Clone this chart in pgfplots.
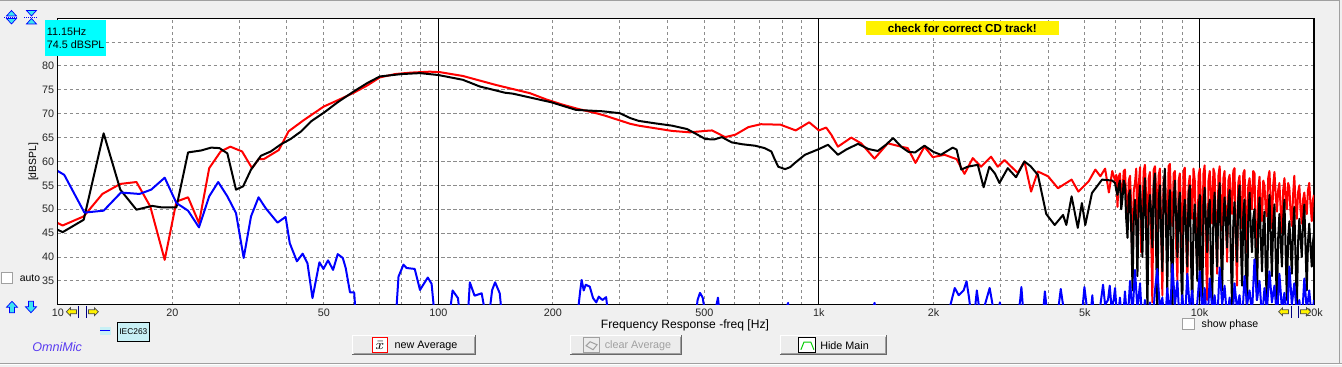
\documentclass[border=0pt]{standalone}
\usepackage{pgfplots}
\pgfplotsset{compat=1.18}
\usepackage{fontspec}
\setmainfont{Liberation Sans}
\definecolor{bg}{RGB}{240,240,240}
\definecolor{gridc}{RGB}{140,140,140}
\definecolor{btnface}{RGB}{236,236,236}
\definecolor{btnshadow}{RGB}{160,160,160}
\definecolor{btndark}{RGB}{105,105,105}
\definecolor{omni}{RGB}{90,60,240}
\definecolor{paleteal}{RGB}{200,240,245}
\definecolor{navy}{RGB}{0,0,128}
\definecolor{hlcyan}{RGB}{0,255,255}
\definecolor{arrowcyan}{RGB}{60,230,240}
\newcommand{\fs}{\fontsize{5.4}{6}\selectfont}
\newcommand{\btn}[4]{%
  \fill[btnface] (#1,#2) rectangle (#3,#4);
  \draw[white,line width=0.5pt] (#1+0.5,#4-1) -- (#1+0.5,#2+0.5) -- (#3-1,#2+0.5);
  \draw[btnshadow,line width=0.5pt] (#1+1.5,#4-1.5) -- (#3-1.5,#4-1.5) -- (#3-1.5,#2+1.5);
  \draw[btndark,line width=0.5pt] (#1,#4-0.5) -- (#3-0.5,#4-0.5) -- (#3-0.5,#2);}
\newcommand{\larrow}[2]{% tip x, center y
  \filldraw[fill=yellow,draw=black!70,line width=0.35pt] (#1,#2) -- (#1+4,#2-4) -- (#1+4,#2-2) -- (#1+10,#2-2) -- (#1+10,#2+2) -- (#1+4,#2+2) -- (#1+4,#2+4) -- cycle;}
\newcommand{\rarrow}[2]{%
  \filldraw[fill=yellow,draw=black!70,line width=0.35pt] (#1,#2) -- (#1-4,#2-4) -- (#1-4,#2-2) -- (#1-10,#2-2) -- (#1-10,#2+2) -- (#1-4,#2+2) -- (#1-4,#2+4) -- cycle;}
\begin{document}
\begin{tikzpicture}[x=0.5pt,y=-0.5pt]
\fill[bg] (0,0) rectangle (1342,367);
\draw[btnshadow,line width=0.5pt] (0,1) -- (1340,1) -- (1340,363);
\draw[btnshadow,line width=0.5pt] (0,363.5) -- (1342,363.5);
\draw[white,line width=0.5pt] (0,364.5) -- (1342,364.5);
\begin{axis}[
  at={(28.65pt,-9.1pt)}, anchor=north west,
  width=628.6pt, height=143.4pt, scale only axis,
  xmode=log, xmin=10, xmax=20000, ymin=30, ymax=90,
  axis background/.style={fill=white},
  axis line style={black,line width=0.6pt},
  xtick={10,20,30,40,50,60,70,80,90,100,200,300,400,500,600,700,800,900,1000,2000,3000,4000,5000,6000,7000,8000,9000,10000,20000},
  xticklabels={10,20,{},{},50,{},{},{},{},100,200,{},{},500,{},{},{},{},1k,2k,{},{},5k,{},{},{},{},10k,20k},
  ytick={35,40,45,50,55,60,65,70,75,80,85},
  yticklabels={35,40,45,50,55,60,65,70,75,80,{}},
  major tick length=0pt, minor tick length=0pt,
  xminorgrids=false, yminorgrids=false,
  xmajorgrids=true, ymajorgrids=true,
  major grid style={gridc,line width=0.5pt,dash pattern=on 1.6pt off 1.4pt},
  extra x ticks={100,1000,10000},
  extra x tick labels={},
  extra x tick style={grid=major, major grid style={black,solid,line width=0.5pt}},
  ticklabel style={font=\fs, text=black!85},
  xticklabel style={anchor=north, inner sep=0pt, yshift=-2pt},
  yticklabel style={anchor=east, inner sep=0pt, xshift=-1.6pt},
  every axis plot/.append style={line width=1pt, line join=round, mark=none},
]
\addplot[red] coordinates {
(10,47.1)(10.3,46.6)(11.7,48.5)(13.1,53.2)(14.6,55.3)(16.1,55.7)(17.5,50.6)(19.1,39.4)(20.5,51.6)(22.0,52.5)(23.5,47.1)(25.0,58.6)(26.8,62.1)(28.4,63.1)(30.5,62.1)(32.4,58.6)(33.7,60.5)(34.8,60.5)(38.1,62.4)(40.4,66.3)(44.2,68.6)(50.0,71.5)(54.7,72.9)(60,74.4)(65,75.9)(70.2,77.6)(77,78.3)(84.6,78.6)(95,78.8)(101,78.7)(116,77.9)(142,76.0)(174,74.3)(192,73.0)(212,71.9)(233,71.0)(260,70.1)(274,69.6)(319,67.9)(336,67.5)(411,66.4)(458,66.1)(503,66.4)(524,66.5)(567,65.1)(603,65.6)(653,67.2)(704,67.8)(793,67.7)(869,66.5)(943,68.2)(1000,66.5)(1045,67.1)(1080,65.5)(1122,63.1)(1216,65.0)(1291,63.8)(1400,60.6)(1517,63.8)(1645,63.1)(1712,62.8)(1794,59.7)(1894,63.1)(1992,60.9)(2139,61.4)(2225,60.9)(2300,60.5)(2413,57.4)(2537,60.7)(2667,58.9)(2834,61.0)(2951,58.9)(3072,60.3)(3330,57.6)(3468,60.0)(3611,53.7)(3762,57.9)(4000,56.9)(4248,54.4)(4613,56.2)(4806,53.7)(5111,55.8)(5325,58.3)(5490,56.9)(5650,58.5)(5780,53.5)(5900,58.0)
(6000,56.0)(6045,57.2)(6090,50.5)(6135,56.8)(6180,57.5)(6230,53.0)(6280,54.0)(6325,58.0)(6370,58.3)(6420,52.0)(6470,47.0)(6520,56.0)(6570,57.0)(6620,50.0)(6670,36.0)(6720,54.0)(6770,55.5)(6820,58.5)(6870,45.0)(6925,55.0)(6980,58.8)(7030,41.0)(7080,49.0)(7135,58.0)(7190,59.3)(7245,52.0)(7300,38.5)(7355,56.5)(7410,57.8)(7465,45.0)(7520,30.5)(7580,58.2)(7640,59.0)(7695,53.5)(7750,44.0)(7810,57.0)(7870,58.5)(7930,47.0)(7990,32.0)(8050,56.0)(8110,57.0)(8170,50.0)(8230,40.0)(8295,59.0)(8360,59.5)(8425,51.0)(8490,46.5)(8555,57.5)(8620,58.0)(8685,42.0)(8750,35.0)(8815,56.0)(8880,57.5)(8945,49.0)(9010,42.0)(9080,58.0)(9150,58.7)(9220,45.0)(9290,33.5)(9360,55.0)(9430,57.0)(9500,52.5)(9570,48.0)(9645,58.5)(9720,56.0)(9795,44.0)(9870,38.0)(9945,57.0)(10020,58.5)(10095,51.0)(10170,44.5)(10245,57.5)(10320,59.2)(10400,40.0)(10480,31.0)(10560,56.0)(10640,58.0)(10720,53.0)(10800,47.0)(10880,58.5)(10960,57.5)(11045,46.0)(11130,36.5)(11215,57.0)(11300,59.0)(11385,50.0)(11470,45.5)(11555,56.5)(11640,58.0)(11730,48.0)(11820,39.0)(11910,56.0)(12000,57.2)(12090,52.0)(12180,49.0)(12270,58.0)(12360,58.6)(12455,44.0)(12550,34.0)(12645,55.5)(12740,57.0)(12840,51.5)(12940,46.0)(13035,57.5)(13130,58.2)(13230,49.0)(13330,41.0)(13435,55.0)(13540,56.5)(13640,53.0)(13740,50.0)(13845,58.0)(13950,57.5)(14055,45.0)(14160,37.5)(14270,54.0)(14380,56.8)(14490,51.0)(14600,47.5)(14710,56.0)(14820,55.0)(14930,50.0)(15040,48.5)(15155,56.5)(15270,58.0)(15385,52.0)(15500,46.0)(15620,55.0)(15740,57.8)(15860,53.0)(15980,49.5)(16100,54.0)(16220,55.5)(16345,50.0)(16470,45.0)(16595,54.0)(16720,56.5)(16845,52.5)(16970,50.0)(17100,55.5)(17230,54.5)(17360,49.0)(17490,46.5)(17620,53.0)(17750,57.0)(17885,51.0)(18020,48.0)(18160,53.5)(18300,55.0)(18435,50.0)(18570,47.0)(18715,52.0)(18860,53.5)(19000,50.5)(19140,49.0)(19285,54.0)(19430,55.5)(19580,51.0)(19730,47.5)(19865,52.0)(20000,53.0)
};
\addplot[black] coordinates {
(10,45.7)(10.3,45.2)(11.7,47.8)(13.2,65.9)(14.6,54.1)(16.1,49.9)(17.7,50.7)(18.7,50.4)(20.5,50.4)(22.0,61.9)(23.8,62.3)(25.3,62.9)(26.6,62.8)(27.9,61.7)(29.4,54.1)(30.7,54.8)(32.2,58.3)(34.2,61.2)(36.3,62.1)(38.6,63.6)(40.9,64.7)(43.6,66.3)(46.3,68.4)(50.2,70.3)(54.4,72.4)(59.8,74.6)(65,76.4)(70.2,77.8)(80.1,78.3)(89.5,78.5)(100,78.1)(116,77.1)(128.5,75.7)(149.5,74.4)(157,74.2)(198,72.4)(230,70.8)(271,70.5)(300,70.1)(319,69.1)(336,68.5)(370,68.0)(411,67.5)(450,66.8)(475,65.8)(503,64.7)(530,64.6)(556,65.1)(590,64.0)(630,63.6)(680,63.3)(720,62.8)(750,62.1)(765,60.5)(782,58.9)(815,58.4)(840,58.8)(865,59.7)(919,61.4)(1000,62.6)(1057,63.5)(1122,61.4)(1180,62.5)(1267,63.7)(1350,62.6)(1428,62.2)(1500,63.5)(1567,64.9)(1650,63.0)(1720,62.0)(1790,61.9)(1894,63.3)(2000,62.0)(2092,61.4)(2247,62.9)(2300,62.5)(2366,58.3)(2459,58.9)(2615,59.3)(2709,54.6)(2805,58.9)(2900,57.5)(2981,55.5)(3135,58.6)(3296,56.7)(3468,60.0)(3600,59.0)(3762,57.2)(3958,49.0)(4164,46.7)(4381,48.8)(4468,46.7)(4613,52.7)(4789,46.1)(4909,51.3)(5011,46.7)(5218,53.4)(5548,56.2)(5901,56.0)
(6000,55.5)(6045,54.0)(6090,53.0)(6135,55.0)(6180,56.0)(6230,50.0)(6280,52.5)(6325,56.0)(6370,55.0)(6420,48.0)(6470,44.0)(6520,53.0)(6570,54.0)(6620,45.0)(6670,33.0)(6720,48.0)(6770,52.0)(6820,47.0)(6870,36.0)(6925,51.0)(6980,55.0)(7030,48.0)(7080,40.0)(7135,52.0)(7190,56.5)(7245,44.0)(7300,29.0)(7355,50.0)(7410,53.0)(7465,49.0)(7520,42.0)(7580,55.0)(7640,57.5)(7695,41.0)(7750,28.0)(7810,52.0)(7870,55.0)(7930,45.0)(7990,37.0)(8050,54.0)(8110,58.5)(8170,46.0)(8230,33.0)(8295,50.0)(8360,54.0)(8425,40.0)(8490,28.0)(8555,52.0)(8620,56.0)(8685,48.0)(8750,40.0)(8815,51.0)(8880,53.5)(8945,38.0)(9010,29.0)(9080,49.0)(9150,52.0)(9220,45.0)(9290,38.0)(9360,53.0)(9430,55.0)(9500,40.0)(9570,28.5)(9645,47.0)(9720,51.0)(9795,43.0)(9870,35.0)(9945,50.0)(10020,53.0)(10095,39.0)(10170,29.0)(10245,51.0)(10320,54.5)(10400,47.0)(10480,41.0)(10560,50.0)(10640,52.0)(10720,38.0)(10800,30.0)(10880,49.0)(10960,53.5)(11045,45.0)(11130,38.0)(11215,52.0)(11300,55.5)(11385,42.0)(11470,33.0)(11555,48.0)(11640,52.5)(11730,47.0)(11820,42.0)(11910,51.0)(12000,54.0)(12090,40.0)(12180,29.5)(12270,47.0)(12360,51.5)(12455,45.0)(12550,39.0)(12645,52.0)(12740,55.0)(12840,43.0)(12940,34.0)(13035,49.0)(13130,52.0)(13230,38.0)(13330,28.0)(13435,48.0)(13540,53.5)(13640,46.0)(13740,41.0)(13845,48.0)(13950,50.0)(14055,40.0)(14160,31.0)(14270,47.0)(14380,52.5)(14490,44.0)(14600,37.0)(14710,46.0)(14820,49.5)(14930,38.0)(15040,29.0)(15155,48.0)(15270,53.0)(15385,44.0)(15500,36.0)(15620,47.0)(15740,51.0)(15860,40.0)(15980,28.5)(16100,44.0)(16220,49.0)(16345,43.0)(16470,38.0)(16595,48.0)(16720,52.0)(16845,41.0)(16970,31.0)(17100,44.0)(17230,47.5)(17360,42.0)(17490,36.5)(17620,46.0)(17750,50.5)(17885,40.0)(18020,29.0)(18160,43.0)(18300,48.0)(18435,44.0)(18570,40.0)(18715,47.0)(18860,51.0)(19000,42.0)(19140,33.0)(19285,43.0)(19430,47.0)(19580,42.0)(19730,38.0)(19865,43.0)(20000,45.0)
};
\addplot[blue] coordinates {
(10,58.0)(10.4,57.2)(11.75,49.3)(13.2,49.7)(14.66,53.5)(16.4,53.2)(17.6,54.1)(19.1,56.6)(20.5,51.3)(22.0,49.7)(23.5,46.2)(25.0,52.7)(26.4,55.7)(27.9,52.7)(29.4,49.2)(30.8,39.8)(32.2,48.5)(33.7,52.5)(35.2,50.2)(37.8,47.2)(39.7,48.4)(40.7,42.9)(42.5,39.1)(44.0,40.7)(45.3,38.7)(46.7,31.4)(48.7,38.9)(49.9,37.5)(51.3,39.3)(52.9,37.3)(54.4,40.6)(56.1,39.8)(57.1,37.7)(58.6,32.6)(60.1,32.6)(61,25)(77,25)(78.6,35.9)(81,38.4)(82.5,37.7)(86.7,37.5)(89.5,33.1)(93.8,35.7)(96,34.4)(98.5,25)(106,25)(109,33.0)(112.6,31.4)(115,25)(119,25)(121,34.7)(124.5,31.9)(130,32.4)(135,25)(137,30)(138.5,33.1)(141,34.7)(145,32.4)(148,25)(230,25)(236,33)(238,35.2)(241,33)(244,34.2)(250,33.8)(255,31.4)(260,30.5)(264,31.7)(270,31.0)(276,31.6)(282,25)(470,25)(480,31)(487,32.5)(495,31.5)(505,27)(535,29)(543,31.5)(550,27)(600,25)(820,29)(830,30.4)(840,25)(1350,25)(1400,30.4)(1450,25)(2200,29)(2275,33.5)(2330,32.0)(2400,33)(2443,34.9)(2480,31.5)(2520,27)(2570,29)(2600,33.0)(2640,29)(2680,26)(2730,30)(2810,33.5)(2860,30)(2900,25)(2990,30.5)(3030,27)(3300,25)(3380,31)(3405,33.7)(3440,29)(3600,25)(3880,28)(3925,32.8)(3970,29)(4150,25)(4270,30)(4320,33.3)(4380,30)(4450,28)(4500,25)(4900,27)(4985,33.7)(5050,30)(5150,26)(5230,32)(5290,26)(5450,28)(5580,34.2)(5650,30)(5750,31)(5810,34.0)(5880,29)(5950,31)
(6000,33.5)(6090,26)(6180,31.5)(6280,25)(6370,32.8)(6470,26)(6570,35.0)(6670,28)(6770,37.3)(6870,29)(6980,34.5)(7080,25)(7190,31)(7300,25)(7410,30.5)(7520,25)(7640,33)(7750,37.5)(7870,29)(7990,31.5)(8110,25)(8230,33.5)(8360,27)(8490,38.5)(8620,30)(8750,35)(8880,25)(9010,32)(9150,26)(9290,36.5)(9430,29)(9570,33)(9720,25)(9870,30.5)(10020,37)(10170,28)(10320,33.5)(10480,25)(10640,35.5)(10800,29)(10960,32)(11130,26)(11300,37.8)(11470,30)(11640,34)(11820,27)(12000,31.5)(12180,25)(12360,34.5)(12550,29)(12740,32)(12940,26)(13130,36)(13330,30)(13540,33)(13740,28)(13950,39.5)(14160,31)(14380,35)(14600,27)(14820,33.5)(15040,29)(15270,37)(15500,30.5)(15740,34)(15980,27)(16220,36.5)(16470,29)(16720,32.5)(16970,26)(17230,38)(17490,30)(17750,34.5)(18020,28)(18300,31)(18570,26)(18860,35.5)(19140,29)(19430,33)(19730,27)(20000,31)
};
\end{axis}
% y label
\node[rotate=90,font=\fontsize{5.2}{6}\selectfont,inner sep=0pt] at (33,162) {[dBSPL]};
% x label
\node[font=\fontsize{6.05}{7}\selectfont,inner sep=0pt] at (685,326) {Frequency Response -freq [Hz]};
% cyan readout box
\fill[hlcyan] (44.3,20) rectangle (105.7,55.7);
\node[anchor=west,inner sep=0pt,font=\fs] at (46,31.5) {11.15Hz};
\node[anchor=west,inner sep=0pt,font=\fs] at (46,45) {74.5 dBSPL};
% yellow warning
\fill[yellow] (866,21.5) rectangle (1059,34.6);
\node[inner sep=0pt,font=\fontsize{5.8}{7}\selectfont\bfseries] at (962.5,28) {check for correct CD track!};
% top-left icons
\filldraw[fill=arrowcyan,draw=blue,line width=0.35pt] (11,10.5) -- (16,16) -- (6,16) -- cycle;
\filldraw[fill=arrowcyan,draw=blue,line width=0.35pt] (11,24) -- (16,18.5) -- (6,18.5) -- cycle;
\draw[blue,line width=0.4pt,dash pattern=on 0.5pt off 0.5pt] (4,17.3) -- (18,17.3);
\filldraw[fill=arrowcyan,draw=blue,line width=0.35pt] (31,16) -- (36,10.5) -- (26,10.5) -- cycle;
\filldraw[fill=arrowcyan,draw=blue,line width=0.35pt] (31,18.5) -- (36,24) -- (26,24) -- cycle;
\draw[blue,line width=0.4pt,dash pattern=on 0.5pt off 0.5pt] (24,17.3) -- (38,17.3);
% auto checkbox
\filldraw[fill=white,draw=btnshadow,line width=0.5pt] (1,272.5) rectangle (12,283.5);
\node[anchor=west,inner sep=0pt,font=\fontsize{5.2}{6}\selectfont] at (19,278) {auto};
% bottom-left up/down arrows
\filldraw[fill=arrowcyan,draw=blue,line width=0.35pt] (11.5,301.5) -- (17,307.5) -- (14,307.5) -- (14,313) -- (9,313) -- (9,307.5) -- (6,307.5) -- cycle;
\filldraw[fill=arrowcyan,draw=blue,line width=0.35pt] (30.5,313) -- (36,307) -- (33,307) -- (33,301.5) -- (28,301.5) -- (28,307) -- (25,307) -- cycle;
% yellow scroll arrows left
\larrow{66}{312}
\draw[navy,line width=0.5pt] (78.5,306) -- (78.5,318);
\draw[navy,line width=0.5pt] (86,306) -- (86,318);
\rarrow{98}{312}
% yellow scroll arrows right
\larrow{1279}{312}
\draw[navy,line width=0.5pt] (1292,306) -- (1292,318);
\draw[navy,line width=0.5pt] (1298.5,306) -- (1298.5,318);
\rarrow{1311}{312}
% legend entry
\fill[paleteal] (99.5,327) rectangle (110.5,335);
\draw[blue,line width=0.5pt] (100,330.7) -- (110,330.7);
\filldraw[fill=paleteal,draw=black,line width=0.5pt] (117.3,322.3) rectangle (148.7,341.7);
\node[inner sep=0pt,font=\fontsize{4.2}{5}\selectfont] at (133,332) {IEC263};
% OmniMic
\node[inner sep=0pt,font=\fontsize{6.3}{7}\selectfont\itshape,text=omni] at (56.7,347) {OmniMic};
% buttons
\btn{352}{335.7}{476}{355.5}
\filldraw[fill=white,draw=red,line width=0.5pt] (372.3,337.7) rectangle (387.3,352.7);
\node[inner sep=0pt] at (379.8,345.3) {\fontsize{7}{8}\selectfont$\bar{x}$};
\node[anchor=west,inner sep=0pt,font=\fs] at (394,346) {new Average};
\btn{570}{335.7}{682}{355.5}
\filldraw[fill=btnface,draw=btnshadow,line width=0.5pt] (583.3,337.7) rectangle (599.3,352.7);
\draw[btnshadow,line width=0.5pt] (586,346) -- (590,342) -- (597,345) -- (593,350) -- cycle;
\node[anchor=west,inner sep=0pt,font=\fs,text=btnshadow] at (604.3,346) {clear Average};
\btn{780}{335.7}{887}{355.5}
\filldraw[fill=white,draw=black,line width=0.5pt] (799,337.7) rectangle (815.7,352.7);
\draw[green!80!black,line width=0.5pt] (801,350) -- (804,342.5) -- (811,342.5) -- (814,350);
\node[anchor=west,inner sep=0pt,font=\fs] at (820,346) {Hide Main};
% show phase
\filldraw[fill=white,draw=btnshadow,line width=0.5pt] (1183.3,318.3) rectangle (1195,330);
\node[anchor=west,inner sep=0pt,font=\fontsize{5.3}{6}\selectfont] at (1201.7,325) {show phase};
\end{tikzpicture}
\end{document}
